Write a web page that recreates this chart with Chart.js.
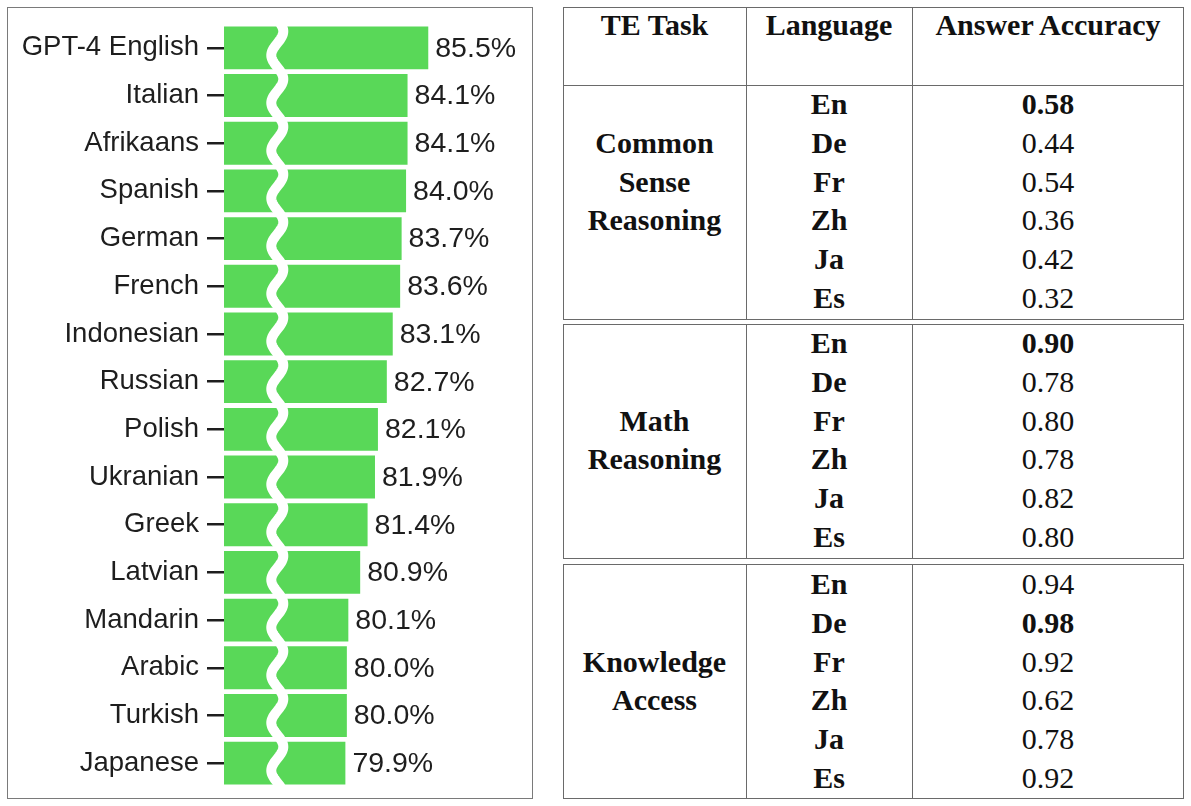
<!DOCTYPE html>
<html>
<head>
<meta charset="utf-8">
<script src="https://cdn.jsdelivr.net/npm/chart.js@4"></script>
<style>
  body { margin: 0; background: #fff; width: 1191px; height: 806px; overflow: hidden; position: relative; }
  #chartBox { position: absolute; left: 7px; top: 7px; width: 526px; height: 792px; box-sizing: border-box; border: 1.5px solid #7a7a7a; }
  #chartBox canvas { display: block; }
  .tbox { position: absolute; left: 563px; width: 621px; box-sizing: border-box; border: 1.5px solid #6a6a6a; }
  .vline { position: absolute; top: 0; bottom: 0; width: 0; border-left: 1.5px solid #6a6a6a; }
  .hline { position: absolute; left: 0; right: 0; height: 0; border-top: 1.5px solid #6a6a6a; }
  .cell { position: absolute; height: 40px; line-height: 40px; text-align: center; white-space: nowrap;
          font-family: "Liberation Serif", "Times New Roman", serif; font-size: 30px; color: #111; }
  .b { font-weight: bold; }
</style>
</head>
<body>
<div id="chartBox"><canvas id="accChart" width="523" height="789"></canvas></div>
<div id="table"></div>
<script>
// left chart: answer accuracy by language
const languageNames = ["GPT-4 English", "Italian", "Afrikaans", "Spanish", "German", "French", "Indonesian",
  "Russian", "Polish", "Ukranian", "Greek", "Latvian", "Mandarin", "Arabic", "Turkish", "Japanese"];
const accuracy = [85.5, 84.1, 84.1, 84.0, 83.7, 83.6, 83.1, 82.7, 82.1, 81.9, 81.4, 80.9, 80.1, 80.0, 80.0, 79.9];
const breakAt = 75.3; // where the axis is cut

// right table
const headers = ["TE Task", "Language", "Answer Accuracy"];
const taskNames = [["Common", "Sense", "Reasoning"], ["Math", "Reasoning"], ["Knowledge", "Access"]];
const langCodes = ["En", "De", "Fr", "Zh", "Ja", "Es"];
const commonSense = [0.58, 0.44, 0.54, 0.36, 0.42, 0.32];
const mathReasoning = [0.90, 0.78, 0.80, 0.78, 0.82, 0.80];
const knowledgeAccess = [0.94, 0.98, 0.92, 0.62, 0.78, 0.92];

const fontFamily = "'Liberation Sans', Arial, Helvetica, sans-serif";

// white wavy cut across the bars
const breakPlugin = {
  id: "axisBreak",
  afterDatasetsDraw(chart) {
    const { ctx, chartArea, scales } = chart;
    const bx = scales.x.getPixelForValue(breakAt);
    const pitch = (chartArea.bottom - chartArea.top) / languageNames.length;
    ctx.save();
    ctx.beginPath();
    ctx.rect(chartArea.left, chartArea.top, chartArea.width, chartArea.height);
    ctx.clip();
    ctx.beginPath();
    for (let y = chartArea.top; y <= chartArea.bottom; y += 1) {
      const x = bx + 6 * Math.sin((2 * Math.PI * (y - chartArea.top)) / pitch + 0.6);
      if (y === chartArea.top) ctx.moveTo(x, y); else ctx.lineTo(x, y);
    }
    ctx.strokeStyle = "#fff";
    ctx.lineWidth = 10;
    ctx.lineCap = "round";
    ctx.stroke();
    ctx.restore();
  }
};

// percentage labels at bar ends
const valueLabels = {
  id: "valueLabels",
  afterDatasetsDraw(chart) {
    const { ctx } = chart;
    const meta = chart.getDatasetMeta(0);
    ctx.save();
    ctx.font = "28.5px " + fontFamily;
    ctx.fillStyle = "#1e1e1e";
    ctx.textBaseline = "middle";
    ctx.textAlign = "left";
    meta.data.forEach((bar, i) => {
      ctx.fillText(accuracy[i].toFixed(1) + "%", bar.x + 7, bar.y + 1);
    });
    ctx.restore();
  }
};

new Chart(document.getElementById("accChart").getContext("2d"), {
  type: "bar",
  data: {
    labels: languageNames,
    datasets: [{
      data: accuracy,
      backgroundColor: "#59d858",
      borderWidth: 0,
      barPercentage: 0.9,
      categoryPercentage: 1
    }]
  },
  options: {
    indexAxis: "y",
    responsive: false,
    animation: false,
    events: [],
    layout: { padding: { top: 16, bottom: 10, right: 8, left: 0 } },
    plugins: { legend: { display: false }, tooltip: { enabled: false } },
    scales: {
      x: { display: false, min: 71.7, max: 91.9 },
      y: {
        afterFit: (scale) => {
          scale.width = 216;
          scale.paddingTop = 0;
          scale.paddingBottom = 0;
        },
        border: { display: false },
        grid: { offset: false, drawOnChartArea: false, tickLength: 17, tickColor: "#1e1e1e", lineWidth: 2.5 },
        ticks: { padding: 8, color: "#1e1e1e", font: { family: fontFamily, size: 27.5 }, autoSkip: false }
      }
    }
  },
  plugins: [breakPlugin, valueLabels]
});

// table
const table = document.getElementById("table");
const colLeft = [563, 746, 912];
const colRight = [746, 912, 1184];
const pitch = 38.8;

function addCell(text, col, cy, bold) {
  const d = document.createElement("div");
  d.className = "cell" + (bold ? " b" : "");
  d.style.left = colLeft[col] + "px";
  d.style.width = (colRight[col] - colLeft[col]) + "px";
  d.style.top = (cy - 20) + "px";
  d.textContent = text;
  table.appendChild(d);
}

function addBox(top, bottom, headerLine) {
  const box = document.createElement("div");
  box.className = "tbox";
  box.style.top = top + "px";
  box.style.height = (bottom - top) + "px";
  [746, 912].forEach((x) => {
    const v = document.createElement("div");
    v.className = "vline";
    v.style.left = (x - 563 - 1.5) + "px";
    box.appendChild(v);
  });
  if (headerLine) {
    const h = document.createElement("div");
    h.className = "hline";
    h.style.top = (headerLine - top - 1.5) + "px";
    box.appendChild(h);
  }
  table.appendChild(box);
}

addBox(7, 320, 85);
addBox(324, 559);
addBox(564, 799);

headers.forEach((h, i) => addCell(h, i, 25, true));

const groups = [commonSense, mathReasoning, knowledgeAccess];
const groupFirstRow = [104, 343, 584];
groups.forEach((vals, g) => {
  const y0 = groupFirstRow[g];
  const best = Math.max(...vals);
  const names = taskNames[g];
  const start = Math.floor((langCodes.length - names.length) / 2);
  names.forEach((n, k) => addCell(n, 0, y0 + (start + k) * pitch, true));
  langCodes.forEach((code, r) => {
    addCell(code, 1, y0 + r * pitch, true);
    addCell(vals[r].toFixed(2), 2, y0 + r * pitch, vals[r] === best);
  });
});
</script>
</body>
</html>
